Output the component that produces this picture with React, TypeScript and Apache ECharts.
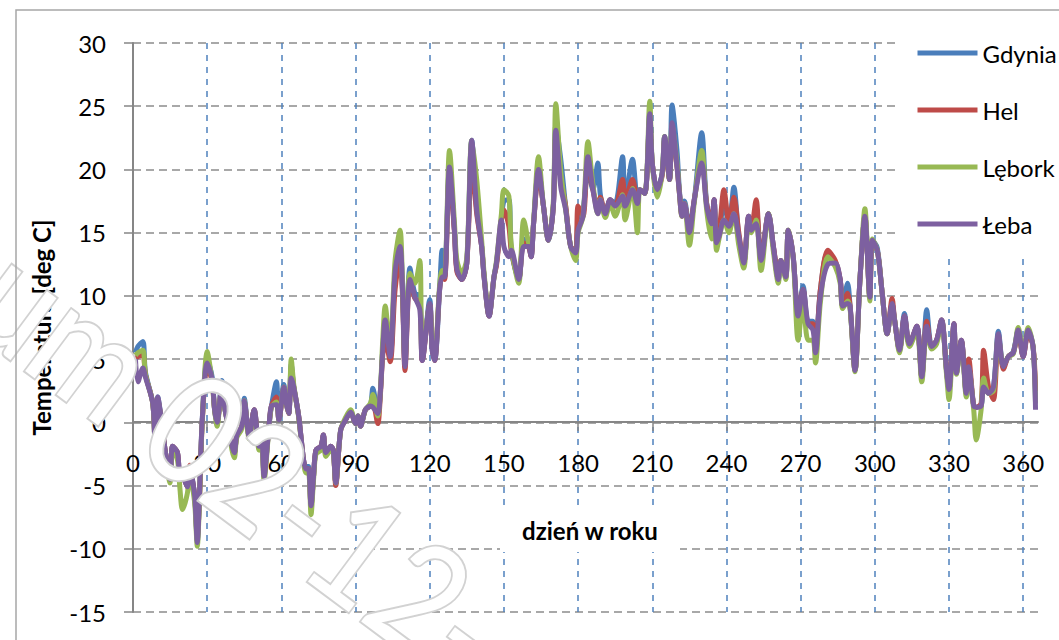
import React, { useEffect, useRef } from "react";
import * as echarts from "echarts";

const days = [
  1, 2, 4, 5, 8, 9, 10, 12, 13, 15,
  16, 18, 19, 20, 22, 23, 24, 25, 26, 27,
  28, 30, 32, 33, 34, 36, 37, 38, 41, 42,
  44, 45, 47, 49, 51, 52, 53, 55, 56, 58,
  59, 61, 62, 63, 64, 65, 67, 69, 70, 71,
  72, 73, 74, 76, 77, 78, 80, 81, 82, 84,
  86, 88, 90, 91, 92, 94, 96, 97, 99, 100,
  101, 102, 104, 106, 108, 109, 110, 112, 114, 116,
  117, 120, 121, 122, 124, 125, 126, 128, 130, 131,
  133, 135, 137, 139, 141, 142, 144, 146, 147, 149,
  150, 152, 153, 156, 158, 160, 161, 162, 164, 166,
  168, 170, 171, 173, 175, 177, 179, 180, 182, 184,
  186, 188, 189, 191, 193, 195, 198, 199, 202, 204,
  205, 207, 209, 210, 212, 214, 215, 217, 218, 220,
  221, 222, 223, 225, 227, 230, 232, 234, 235, 236,
  237, 239, 241, 243, 245, 247, 249, 250, 252, 254,
  257, 259, 261, 262, 264, 265, 267, 269, 271, 273,
  275, 276, 278, 281, 284, 286, 287, 289, 290, 292,
  294, 296, 298, 299, 301, 303, 305, 307, 308, 310,
  312, 314, 317, 319, 321, 323, 325, 327, 329, 330,
  332, 333, 335, 337, 338, 340, 341, 343, 344, 346,
  348, 350, 352, 354, 356, 358, 360, 362, 364, 365,
];

const gdynia = [
  5.5, 6.0, 6.4, 4.0, 1.5, -2.0, 2.0, -0.6, -2.2, -4.5,
  -1.9, -2.4, -4.5, -4.3, -5.1, -3.5, -4.5, -5.9, -9.3, -5.1,
  0.2, 5.0, 3.6, 1.0, 0, 3.3, 1.3, 0.2, -2.4, -1.0,
  -0.3, 1.9, -1.1, 1.0, -1.9, -0.8, -4.0, -0.3, 1.3, 3.2,
  0.2, 3.0, 1.5, 0.7, 4.6, 2.8, 0.5, -3.0, -3.5, -3.5,
  -6.6, -4.3, -2.2, -1.9, -1.0, -2.4, -1.9, -2.2, -4.8, -0.6,
  0.2, 0.9, -0.1, 0.5, -0.3, 1.0, 1.3, 2.7, 0.7, 2.3,
  5.7, 7.5, 5.2, 11.8, 13.9, 10.5, 4.6, 12.2, 10.2, 10.0,
  4.9, 9.7, 5.7, 4.9, 10.5, 13.6, 11.5, 20.2, 15.2, 12.1,
  11.3, 12.6, 22.3, 17.3, 13.9, 11.5, 8.4, 11.5, 12.6, 16.0,
  17.5, 17.6, 13.6, 11.3, 14.5, 13.9, 13.1, 15.7, 20.0, 17.1,
  14.4, 17.1, 23.5, 20.8, 17.0, 13.9, 13.4, 16.0, 16.8, 20.0,
  18.4, 20.5, 18.0, 16.5, 17.6, 17.3, 21.0, 17.5, 20.8, 17.6,
  18.4, 18.1, 24.4, 20.5, 18.4, 19.7, 22.6, 19.2, 25.1, 21.5,
  18.3, 16.8, 17.5, 15.5, 17.6, 22.9, 17.3, 15.8, 17.6, 14.5,
  14.8, 17.5, 15.5, 18.6, 14.7, 12.6, 16.3, 15.2, 16.8, 12.8,
  16.5, 13.9, 11.3, 12.8, 11.5, 15.2, 13.1, 8.4, 10.8, 8.0,
  8.0, 5.8, 10.5, 13.5, 12.6, 11.3, 9.2, 11.0, 9.2, 4.1,
  11.3, 16.3, 9.9, 14.4, 13.8, 10.2, 7.0, 9.4, 8.1, 5.7,
  8.6, 6.2, 7.6, 3.6, 8.9, 6.0, 6.5, 8.1, 4.1, 2.6,
  7.8, 3.9, 6.5, 2.3, 4.4, 1.3, 1.2, 1.3, 3.0, 2.3,
  2.8, 7.2, 4.4, 5.2, 5.6, 7.3, 5.2, 7.3, 6.0, 1.5,
];

const hel = [
  5.0, 5.2, 5.3, 3.8, 1.5, -2.0, 1.8, -0.6, -2.2, -4.5,
  -1.9, -2.4, -4.5, -4.3, -5.1, -3.4, -4.5, -5.9, -9.0, -5.5,
  0.0, 4.4, 3.2, 1.0, 0, 2.8, 1.3, 0.2, -2.4, -1.0,
  -0.3, 1.6, -1.1, 1.0, -1.9, -0.8, -4.0, -0.3, 1.3, 2.0,
  0.2, 2.5, 1.5, 0.7, 4.3, 2.8, 0.5, -3.0, -3.7, -3.7,
  -6.6, -4.3, -2.2, -1.9, -1.0, -2.4, -1.9, -2.2, -5.0, -0.6,
  0.2, 0.8, -0.1, 0.5, -0.3, 1.0, 1.3, 1.5, -0.1, 2.0,
  5.3, 6.5, 4.8, 10.5, 13.0, 10.0, 4.1, 11.2, 9.8, 9.5,
  4.9, 9.3, 6.0, 4.9, 10.5, 11.5, 11.3, 19.7, 15.0, 11.9,
  11.3, 12.6, 20.5, 16.5, 13.9, 11.5, 8.4, 11.5, 12.4, 16.0,
  16.8, 15.5, 13.6, 11.3, 14.2, 13.9, 13.1, 15.7, 19.5, 17.1,
  14.4, 17.1, 22.5, 19.3, 17.1, 13.9, 13.6, 17.1, 16.3, 21.0,
  18.4, 17.0, 17.8, 16.5, 17.6, 17.1, 19.2, 17.5, 19.2, 17.5,
  18.4, 18.1, 24.0, 20.5, 18.4, 19.5, 22.3, 19.2, 23.0, 20.2,
  18.1, 16.3, 17.3, 15.3, 17.6, 21.0, 17.3, 15.8, 17.6, 14.5,
  15.0, 18.4, 15.8, 17.8, 15.0, 12.6, 16.3, 15.2, 17.6, 12.8,
  16.5, 13.9, 11.8, 12.8, 11.5, 15.2, 13.1, 8.4, 10.5, 7.8,
  7.8, 5.6, 10.5, 13.6, 12.8, 11.3, 9.2, 10.2, 9.2, 4.1,
  11.3, 16.3, 9.9, 14.0, 13.6, 10.2, 7.0, 9.8, 8.1, 5.7,
  8.4, 6.2, 7.6, 3.6, 8.0, 6.0, 6.5, 8.1, 4.2, 2.6,
  7.8, 3.9, 6.5, 2.3, 5.0, 1.3, 1.2, 1.5, 5.7, 2.8,
  1.8, 6.8, 4.2, 5.2, 5.5, 7.0, 5.2, 7.0, 6.0, 2.5,
];

const lebork = [
  5.3, 5.5, 5.7, 3.8, 1.5, -2.2, 1.8, -0.8, -2.5, -4.8,
  -2.2, -3.0, -5.3, -6.9, -5.6, -3.8, -5.0, -6.5, -9.8, -5.5,
  0.0, 5.6, 3.2, 1.0, -0.3, 3.0, 1.3, 0.2, -2.8, -1.2,
  -0.5, 1.7, -1.3, 0.8, -2.2, -1.0, -4.6, -0.4, 1.2, 1.6,
  0.2, 2.8, 1.5, 0.7, 5.0, 3.0, 0.4, -3.2, -4.0, -4.0,
  -7.3, -4.6, -2.5, -2.2, -1.3, -2.7, -2.2, -2.4, -4.8, -0.6,
  0.4, 1.0, -0.1, 0.5, -0.3, 1.0, 1.5, 2.2, 0.5, 2.3,
  6.5, 9.2, 5.6, 12.8, 15.2, 10.8, 5.0, 11.8, 11.0, 12.8,
  5.4, 9.2, 6.2, 5.3, 10.8, 12.0, 11.8, 21.5, 15.8, 12.8,
  11.8, 13.0, 22.3, 19.2, 14.4, 11.8, 8.5, 11.5, 12.8, 16.5,
  18.4, 17.9, 14.0, 11.0, 16.0, 14.2, 13.5, 15.9, 21.0, 17.1,
  14.4, 17.5, 25.2, 19.8, 16.8, 13.9, 12.8, 15.0, 16.3, 22.2,
  18.8, 16.5, 17.6, 16.2, 17.3, 16.3, 18.0, 16.0, 18.5, 15.0,
  18.4, 18.1, 25.4, 20.5, 17.8, 19.7, 22.6, 19.2, 23.5, 20.5,
  18.1, 16.3, 17.3, 14.0, 17.4, 21.5, 16.8, 14.5, 17.0, 13.6,
  14.5, 16.0, 15.0, 16.5, 14.0, 12.2, 16.0, 15.0, 16.0, 12.0,
  16.5, 13.5, 11.0, 12.8, 11.3, 15.2, 13.0, 6.5, 9.5, 6.5,
  6.5, 4.7, 9.5, 13.1, 12.3, 11.0, 9.0, 9.6, 9.0, 4.0,
  11.3, 16.9, 9.6, 14.5, 13.6, 10.2, 7.0, 9.0, 8.1, 5.5,
  8.0, 6.0, 7.2, 3.2, 7.4, 5.8, 6.2, 8.0, 3.8, 1.8,
  7.5, 3.8, 6.3, 2.0, 4.2, 1.0, -1.4, 1.0, 3.5, 2.3,
  2.5, 6.8, 4.5, 5.2, 5.4, 7.5, 5.5, 7.5, 6.0, 1.5,
];

const leba = [
  5.0, 3.2, 4.3, 3.6, 1.5, -2.0, 2.0, -0.6, -2.2, -4.5,
  -1.9, -2.4, -4.5, -4.3, -5.1, -3.5, -4.5, -5.9, -9.5, -5.1,
  0.2, 4.7, 3.4, 1.0, 0, 3.0, 1.3, 0.2, -2.4, -1.0,
  -0.3, 1.7, -1.1, 1.0, -1.9, -0.8, -4.3, -0.3, 1.3, 1.4,
  0.2, 2.8, 1.5, 0.7, 3.5, 2.8, 0.5, -3.0, -3.7, -3.7,
  -6.6, -4.3, -2.2, -1.9, -1.0, -2.4, -1.9, -2.2, -4.8, -0.6,
  0.2, 0.8, -0.1, 0.5, -0.3, 1.0, 1.3, 1.2, 0.7, 2.3,
  5.7, 8.1, 5.2, 11.9, 13.9, 10.5, 4.4, 11.3, 9.9, 8.9,
  4.9, 9.4, 5.7, 4.9, 10.5, 11.5, 11.5, 20.2, 15.2, 12.1,
  11.3, 12.6, 22.3, 16.8, 13.9, 11.5, 8.4, 11.5, 12.6, 16.0,
  13.9, 13.1, 13.6, 11.3, 13.9, 13.9, 13.1, 15.7, 20.0, 17.1,
  14.4, 17.1, 23.1, 18.6, 16.8, 13.9, 13.4, 15.2, 16.3, 21.0,
  18.4, 16.5, 17.6, 16.5, 17.6, 17.1, 17.9, 17.1, 18.4, 17.3,
  18.4, 18.1, 24.4, 20.5, 18.4, 19.7, 22.6, 19.2, 23.7, 20.2,
  18.1, 16.3, 17.3, 15.0, 17.6, 20.5, 17.1, 15.7, 17.6, 14.2,
  14.7, 16.0, 15.5, 16.5, 14.7, 12.6, 16.3, 15.2, 15.7, 12.8,
  16.5, 13.9, 11.3, 12.8, 11.5, 15.2, 13.1, 8.4, 10.5, 7.8,
  7.3, 5.5, 10.0, 12.5, 12.6, 11.3, 9.2, 9.4, 9.2, 4.1,
  11.3, 16.3, 9.9, 14.4, 13.6, 10.2, 7.0, 9.4, 8.1, 5.7,
  8.4, 6.2, 7.6, 3.6, 7.6, 6.0, 6.5, 8.1, 4.1, 2.6,
  7.8, 3.9, 6.5, 2.3, 4.4, 1.3, 1.2, 1.3, 2.8, 2.3,
  2.8, 7.0, 4.4, 5.2, 5.5, 7.3, 5.2, 7.3, 6.0, 1.0,
];

const xTicks = [0, 30, 60, 90, 120, 150, 180, 210, 240, 270, 300, 330, 360];
const seriesNames = ["Gdynia", "Hel", "Lębork", "Łeba"];
const seriesValues = [gdynia, hel, lebork, leba];
const seriesColors = ["#4A7EBB", "#BE4B48", "#98B954", "#7D60A0"];
const watermarkText = "um 02-12-";

const FONT = "Lato";

export default function App() {
  const ref = useRef<HTMLDivElement>(null);

  useEffect(() => {
    if (!ref.current) return;
    const chart = echarts.init(ref.current, null, { renderer: "svg" });
    chart.setOption({
      animation: false,
      backgroundColor: "#ffffff",
      textStyle: { fontFamily: FONT },
      grid: {
        left: 133,
        right: 21,
        top: 43,
        bottom: 28,
        containLabel: false,
        outerBoundsMode: "none",
      },
      legend: {
        orient: "vertical",
        left: 897,
        top: 24,
        padding: [17, 10, 17, 18],
        itemGap: 33,
        itemWidth: 60,
        itemHeight: 20,
        backgroundColor: "#ffffff",
        textStyle: { fontSize: 24, color: "#000", fontFamily: FONT },
        lineStyle: { width: 5 },
        itemStyle: { opacity: 0, color: "rgba(0,0,0,0)", borderWidth: 0 },
        data: seriesNames,
      },
      xAxis: {
        type: "value",
        min: 0,
        max: 366,
        interval: 30,
        position: "bottom",
        offset: -190,
        axisLine: { onZero: false, lineStyle: { color: "#868686", width: 2 } },
        axisTick: {
          show: true,
          length: 9,
          customValues: xTicks,
          lineStyle: { color: "#868686", width: 1.5 },
        },
        axisLabel: {
          customValues: xTicks,
          margin: 28,
          fontSize: 24,
          color: "#000",
          fontFamily: FONT,
        },
        splitLine: {
          show: true,
          showMinLine: false,
          lineStyle: { color: "#4F81BD", type: [6, 6], width: 1.5 },
        },
      },
      yAxis: {
        type: "value",
        min: -15,
        max: 30,
        interval: 5,
        name: "Temperatura [deg C]",
        nameLocation: "middle",
        nameGap: 80,
        nameTextStyle: { fontSize: 24, fontWeight: "bold", color: "#000", fontFamily: FONT },
        axisLine: { show: true, onZero: false, lineStyle: { color: "#868686", width: 2 } },
        axisTick: { show: true, length: 9, lineStyle: { color: "#868686", width: 1.5 } },
        axisLabel: { margin: 27, fontSize: 24, color: "#000", fontFamily: FONT },
        splitLine: {
          show: true,
          lineStyle: { color: "#8C8C8C", type: [8, 5], width: 1.5 },
        },
      },
      graphic: [
        {
          type: "rect",
          silent: true,
          z: 100,
          shape: { x: 16, y: 10, width: 1200, height: 800 },
          style: { fill: "none", stroke: "#A6A6A6", lineWidth: 1.5 },
        },
        {
          type: "rect",
          silent: true,
          z: 10,
          shape: { x: 500, y: 507, width: 180, height: 45 },
          style: { fill: "#ffffff" },
        },
        {
          type: "text",
          silent: true,
          z: 11,
          x: 590,
          y: 530,
          style: {
            text: "dzień w roku",
            fontSize: 24,
            fontWeight: "bold",
            fill: "#000",
            align: "center",
            verticalAlign: "middle",
            fontFamily: FONT,
          },
        },
        {
          type: "text",
          silent: true,
          z: 50,
          x: -6,
          y: 274,
          rotation: -0.64,
          scaleX: 0.87,
          style: {
            text: watermarkText,
            fontSize: 152,
            fill: "#ffffff",
            stroke: "#D2D2D2",
            lineWidth: 4,
            align: "left",
            verticalAlign: "middle",
            fontFamily: FONT,
          },
        },
      ],
      series: seriesNames.map((name, i) => ({
        name,
        type: "line",
        data: days.map((d, j) => [d, seriesValues[i][j]]),
        smooth: 0.3,
        symbol: "none",
        showSymbol: false,
        lineStyle: { width: 5, color: seriesColors[i] },
        itemStyle: { color: seriesColors[i] },
      })),
    });
    return () => chart.dispose();
  }, []);

  return (
    <div
      ref={ref}
      style={{ position: "absolute", left: 0, top: 0, width: 1059, height: 640, background: "#fff" }}
    />
  );
}
